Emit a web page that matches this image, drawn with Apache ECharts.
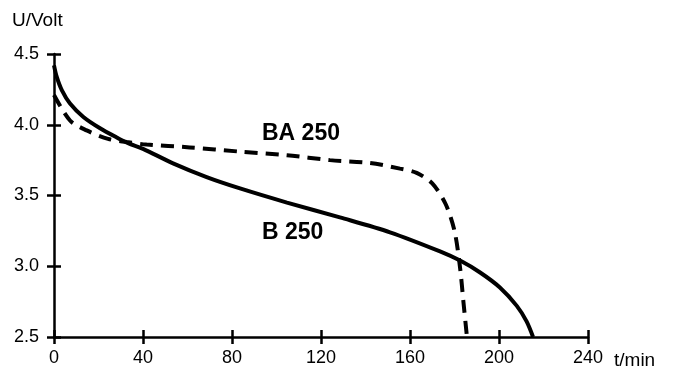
<!DOCTYPE html>
<html>
<head>
<meta charset="utf-8">
<script src="https://cdn.jsdelivr.net/npm/echarts@6/dist/echarts.min.js"></script>
<style>
  html, body { margin: 0; padding: 0; background: #fff; }
  #chart { width: 679px; height: 369px; }
</style>
</head>
<body>
<div id="chart"></div>
<script>
// discharge curves
const timeB = [0, 1.2, 3.5, 7.2, 13.2, 20.7, 28.2, 33.3, 40, 53.5, 68.6, 83.6, 104.7, 128.5, 151, 173.5, 182.5, 191.5, 200.4, 208, 212.4, 215.3];
const voltB = [4.42, 4.34, 4.245, 4.15, 4.055, 3.975, 3.91, 3.87, 3.83, 3.727, 3.63, 3.55, 3.45, 3.345, 3.24, 3.105, 3.04, 2.956, 2.85, 2.72, 2.61, 2.5];

const timeBA = [0, 7.2, 14.7, 24.3, 32.7, 41.6, 61, 83.6, 104.7, 124, 142, 155.5, 163, 170, 176, 180, 182.5, 184, 185.6];
const voltBA = [4.21, 4.03, 3.96, 3.9, 3.878, 3.86, 3.84, 3.81, 3.785, 3.75, 3.73, 3.69, 3.66, 3.585, 3.44, 3.25, 2.99, 2.75, 2.5];

const xTicks = [0, 40, 80, 120, 160, 200, 240];
const yTicks = [2.5, 3.0, 3.5, 4.0, 4.5];

const FONT = "Liberation Sans";
const chart = echarts.init(document.getElementById("chart"));

const pairs = (xs, ys) => xs.map((x, i) => [x, ys[i]]);

const axisLine = { show: true, lineStyle: { color: "#000", width: 2.5 } };
const tickStyle = { color: "#000", width: 2.5 };

chart.setOption({
  animation: false,
  grid: { left: 54, right: 91, top: 54, bottom: 32 },
  xAxis: [
    {
      type: "value",
      min: xTicks[0],
      max: xTicks[xTicks.length - 1],
      interval: 40,
      axisLine: axisLine,
      axisTick: { show: true, length: 7, lineStyle: tickStyle },
      splitLine: { show: false },
      axisLabel: { color: "#000", fontFamily: FONT, fontSize: 18, margin: 12 },
    },
    {
      type: "value",
      position: "bottom",
      min: xTicks[0],
      max: xTicks[xTicks.length - 1],
      interval: 40,
      axisLine: { show: false },
      axisTick: { show: true, inside: true, length: 7, lineStyle: tickStyle },
      splitLine: { show: false },
      axisLabel: { show: false },
    },
  ],
  yAxis: [
    {
      type: "value",
      min: yTicks[0],
      max: yTicks[yTicks.length - 1],
      interval: 0.5,
      axisLine: axisLine,
      axisTick: { show: true, length: 7, lineStyle: tickStyle },
      splitLine: { show: false },
      axisLabel: {
        color: "#000",
        fontFamily: FONT,
        fontSize: 18,
        margin: 15,
        formatter: (v) => v.toFixed(1),
      },
    },
    {
      type: "value",
      position: "left",
      min: yTicks[0],
      max: yTicks[yTicks.length - 1],
      interval: 0.5,
      axisLine: { show: false },
      axisTick: { show: true, inside: true, length: 7, lineStyle: tickStyle },
      splitLine: { show: false },
      axisLabel: { show: false },
    },
  ],
  graphic: [
    {
      type: "text",
      left: 12,
      top: 11,
      style: { text: "U/Volt", fill: "#000", font: "19px " + FONT },
    },
    {
      type: "text",
      left: 614,
      top: 351,
      style: { text: "t/min", fill: "#000", font: "19px " + FONT },
    },
    {
      type: "text",
      left: 262,
      top: 122,
      style: { text: "BA 250", fill: "#000", font: "bold 23px " + FONT },
    },
    {
      type: "text",
      left: 262,
      top: 221,
      style: { text: "B 250", fill: "#000", font: "bold 23px " + FONT },
    },
  ],
  series: [
    {
      name: "B 250",
      type: "line",
      data: pairs(timeB, voltB),
      showSymbol: false,
      smooth: 0.3,
      lineStyle: { color: "#000", width: 4 },
      z: 3,
    },
    {
      name: "BA 250",
      type: "line",
      data: pairs(timeBA, voltBA),
      showSymbol: false,
      smooth: 0.3,
      lineStyle: { color: "#000", width: 4, type: [13, 8] },
      z: 3,
    },
  ],
});
</script>
</body>
</html>
